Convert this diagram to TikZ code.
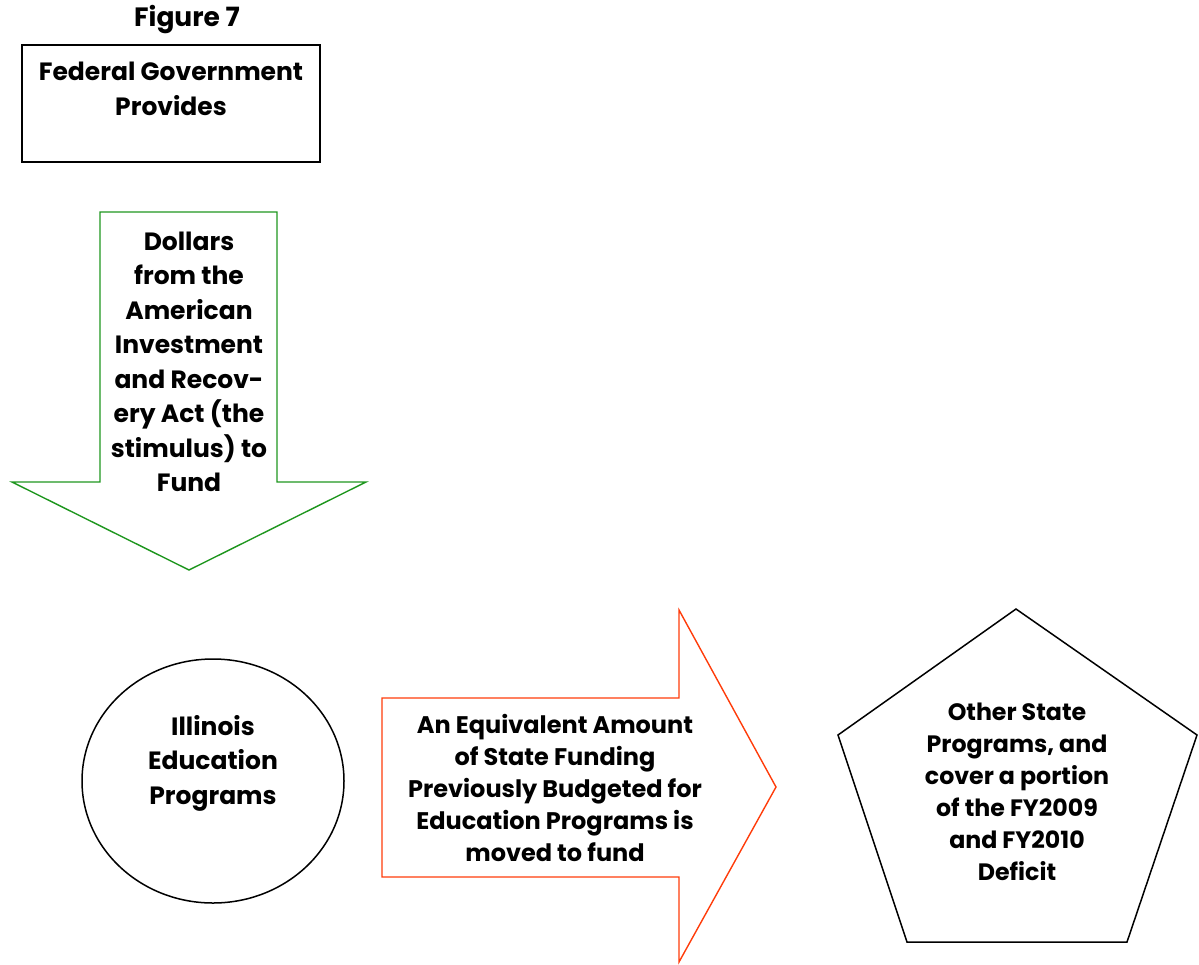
\documentclass[tikz,border=0pt]{standalone}
\usepackage{fontspec}
\setmainfont{Poppins}[BoldFont={* Bold}]
\definecolor{arrgreen}{RGB}{30,150,30}
\definecolor{arrorange}{RGB}{255,60,10}
\begin{document}
\begin{tikzpicture}[x=1pt,y=-1pt,
  txt/.style={align=center,font=\bfseries\fontsize{25}{34.5}\selectfont,inner sep=0pt},
  txts/.style={align=center,font=\bfseries\fontsize{23.7}{32}\selectfont,inner sep=0pt},
  blk/.style={draw=black,line width=1.8pt},
  grn/.style={draw=arrgreen,line width=1.4pt},
  org/.style={draw=arrorange,line width=1.4pt}]
\useasboundingbox (0,0) rectangle (1199,964);
% title
\node[txt,font=\bfseries\fontsize{26.5}{34}\selectfont] (title) at (187,20) {Figure 7};
% federal box
\draw[blk] (22,45) rectangle (320,162);
\node[txt] (fed) at (171,89) {Federal Government\\Provides};
% green arrow
\draw[grn,line join=miter] (100,212) -- (277,212) -- (277,482) -- (366,482) -- (189,570) -- (12,482) -- (100,482) -- cycle;
\node[txt] (dollars) at (189,362) {Dollars\\from the\\American\\Investment\\and Recov-\\ery Act (the\\stimulus) to\\Fund};
% ellipse
\draw[blk,line width=1.5pt] (213,781) ellipse [x radius=131, y radius=122];
\node[txt] (ill) at (213,763) {Illinois\\Education\\Programs};
% orange arrow
\draw[org,line join=miter] (382,698) -- (679,698) -- (679,610) -- (776,787) -- (679,962) -- (679,877) -- (382,877) -- cycle;
\node[txts,font=\bfseries\fontsize{24}{32}\selectfont] (equiv) at (555,788) {An Equivalent Amount\\of State Funding\\Previously Budgeted for\\Education Programs is\\moved to fund};
% pentagon
\draw[blk,line width=1.5pt,line join=miter] (1016,609) -- (1197,735) -- (1127,942) -- (907,942) -- (838,735) -- cycle;
\node[txts] (other) at (1017,792) {Other State\\Programs, and\\cover a portion\\of the FY2009\\and FY2010\\Deficit};
\end{tikzpicture}
\end{document}
